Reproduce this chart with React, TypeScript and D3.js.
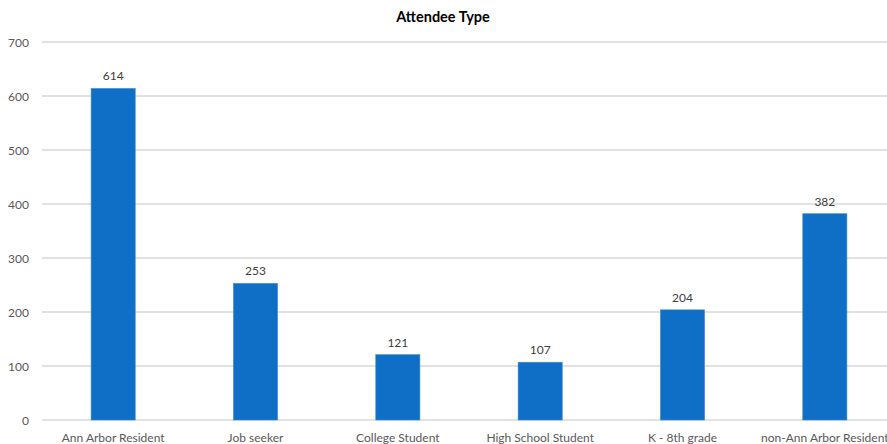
import React from "react";
import * as d3 from "d3";

const categories = ["Ann Arbor Resident", "Job seeker", "College Student", "High School Student", "K - 8th grade", "non-Ann Arbor Resident"];
const values = [614, 253, 121, 107, 204, 382];
const yTicks = [0, 100, 200, 300, 400, 500, 600, 700];
const title = "Attendee Type";

export default function App() {
  const W = 887, H = 444;
  const x = d3.scaleBand<string>().domain(categories).range([42, 896]).paddingInner(0.69).paddingOuter(0.345);
  const y = d3.scaleLinear().domain([0, 700]).range([420, 42]);
  const font = "Lato, 'Open Sans', sans-serif";
  return (
    <svg width={W} height={H} style={{ position: "absolute", left: 0, top: 0, fontFamily: font }}>
      <rect width={W} height={H} fill="#fff" />
      <text x={443} y={22} textAnchor="middle" fontSize={14.5} fontWeight="bold" fill="#000">{title}</text>
      {yTicks.map((t) => (
        <g key={t}>
          <line x1={42} x2={W} y1={y(t)} y2={y(t)} stroke="#d9d9d9" strokeWidth={1.5} />
          <text x={29} y={y(t) + 4.5} textAnchor="end" fontSize={12} fill="#595959">{t}</text>
        </g>
      ))}
      {categories.map((c, i) => (
        <g key={c}>
          <rect x={x(c)!} y={y(values[i])} width={x.bandwidth()} height={y(0) - y(values[i])} fill="#0f6fc6" stroke="#3c8ad6" strokeWidth={0.6} />
          <text x={x(c)! + x.bandwidth() / 2} y={y(values[i]) - 8} textAnchor="middle" fontSize={12} fill="#404040">{values[i]}</text>
          <text x={x(c)! + x.bandwidth() / 2} y={442} textAnchor="middle" fontSize={12} fill="#595959">{c}</text>
        </g>
      ))}
    </svg>
  );
}
